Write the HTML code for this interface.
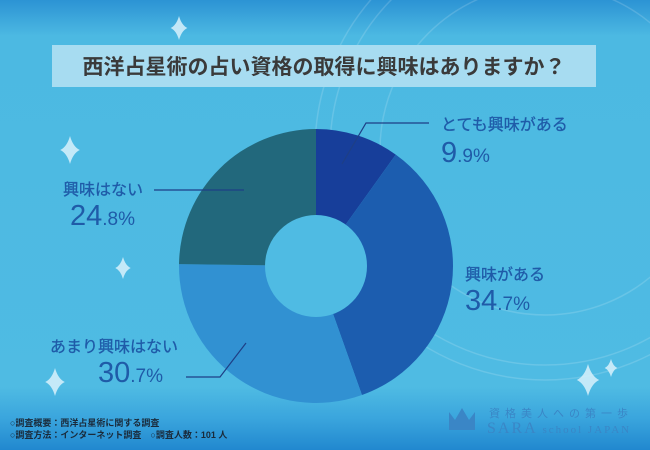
<!DOCTYPE html>
<html><head><meta charset="utf-8">
<style>
html,body{margin:0;padding:0}
body{width:650px;height:450px;overflow:hidden;font-family:"Liberation Sans","Noto Sans CJK JP",sans-serif}
</style></head>
<body>
<svg id="chart" width="650" height="450" xmlns="http://www.w3.org/2000/svg" style="display:block">
<defs>
<linearGradient id="bg" x1="0" y1="0" x2="0" y2="1">
<stop offset="0" stop-color="#2c93d4"/>
<stop offset="0.08" stop-color="#4cb9e2"/>
<stop offset="0.86" stop-color="#4fbbe3"/>
<stop offset="0.93" stop-color="#3aa5dd"/>
<stop offset="1" stop-color="#2188cf"/>
</linearGradient>
</defs>
<rect x="0" y="0" width="650" height="450" fill="url(#bg)"/>
<g fill="none" stroke="#ffffff" stroke-opacity="0.15" stroke-width="1.5">
<circle cx="545" cy="150" r="230"/>
<circle cx="545" cy="150" r="215"/>
<circle cx="545" cy="150" r="165"/>
</g>
<g id="sparkles" fill="#d8f1fb" fill-opacity="0.85"></g>
<rect x="52" y="45" width="544" height="42" fill="#a7dcf1"/>
<text x="324" y="74" text-anchor="middle" font-size="21" font-weight="bold" fill="#3a3a3a">西洋占星術の占い資格の取得に興味はありますか？</text>
<g id="slices"></g>
<circle cx="316" cy="266" r="51" fill="#4fbbe3"/>
<g id="labels"></g>
<text x="10" y="426" font-size="9" font-weight="bold" fill="#1a2a3a">○調査概要：西洋占星術に関する調査</text>
<text x="10" y="438" font-size="9" font-weight="bold" fill="#1a2a3a">○調査方法：インターネット調査　○調査人数：101 人</text>
<g fill="#3a86c6">
<path d="M449 430 L449 412 L455 420 L462 408 L469 420 L475 412 L475 430 Z"/>
<text x="489" y="417" font-size="11" letter-spacing="5">資格美人への第一歩</text>
<text x="487" y="433" font-size="16" font-family="Liberation Serif, serif" letter-spacing="2">SARA<tspan font-size="11" letter-spacing="2"> school JAPAN</tspan></text>
</g>
</svg>
<script>
const categories = ["とても興味がある","興味がある","あまり興味はない","興味はない"];
const values = [9.9, 34.7, 30.7, 24.8];
const intPart = ["9","34","30","24"];
const decPart = [".9%",".7%",".7%",".8%"];
const colors = ["#173e9a","#1c5daf","#3191d2","#22687c"];
const NS="http://www.w3.org/2000/svg";
const cx=316, cy=266, R=137;
function mk(t,a,p){const e=document.createElementNS(NS,t);for(const k in a)e.setAttribute(k,a[k]);p.appendChild(e);return e;}
function pt(frac,r){const a=frac*2*Math.PI;return [cx+r*Math.sin(a),cy-r*Math.cos(a)];}
const total=values.reduce((a,b)=>a+b,0);
const sg=document.getElementById('slices');
let acc=0;
values.forEach((v,i)=>{
  const s=acc/total, e=(acc+v)/total; acc+=v;
  const p0=pt(s,R), p1=pt(e,R);
  const large=(e-s)>0.5?1:0;
  const el=mk('path',{d:`M${cx},${cy} L${p0[0]},${p0[1]} A${R},${R} 0 ${large} 1 ${p1[0]},${p1[1]} Z`,fill:colors[i]},sg);
  
  
});
const lay=[
 {x:441,ly:130,vy:162,line:[[342,164],[366,123],[429,123]]},
 {x:465,ly:280,vy:310,line:null},
 {x:50,ly:352,vy:382,line:[[246,343],[220,377],[186,377]],numx:98},
 {x:63,ly:195,vy:225,line:[[244,190],[154,190]],numx:70}
];
const lg=document.getElementById('labels');
lay.forEach((L,i)=>{
  const t=mk('text',{x:L.x,y:L.ly,'font-size':16,fill:'#1f5ba8',stroke:'#1f5ba8','stroke-width':0.3},lg);t.textContent=categories[i];
  
  
  const n=mk('text',{x:L.numx||L.x,y:L.vy,'font-size':29,fill:'#1f5ba8'},lg);
  
  
  const a=mk('tspan',{},n);a.textContent=intPart[i];
  const b=mk('tspan',{'font-size':19},n);b.textContent=decPart[i];
  if(L.line){const pl=mk('polyline',{points:L.line.map(p=>p.join(',')).join(' '),fill:'none',stroke:'#1e3f86','stroke-width':1.2},lg);
    
    }
});
const sp=document.getElementById('sparkles');
[[179,28,12],[70,150,14],[123,268,11],[55,382,14],[588,380,16],[611,368,9]].forEach(([x,y,s])=>{
  const w=s*0.22;
  const p=mk('path',{d:`M${x},${y-s} Q${x+w},${y-w} ${x+s*0.7},${y} Q${x+w},${y+w} ${x},${y+s} Q${x-w},${y+w} ${x-s*0.7},${y} Q${x-w},${y-w} ${x},${y-s} Z`},sp);
  
  
});
</script>
</body></html>
